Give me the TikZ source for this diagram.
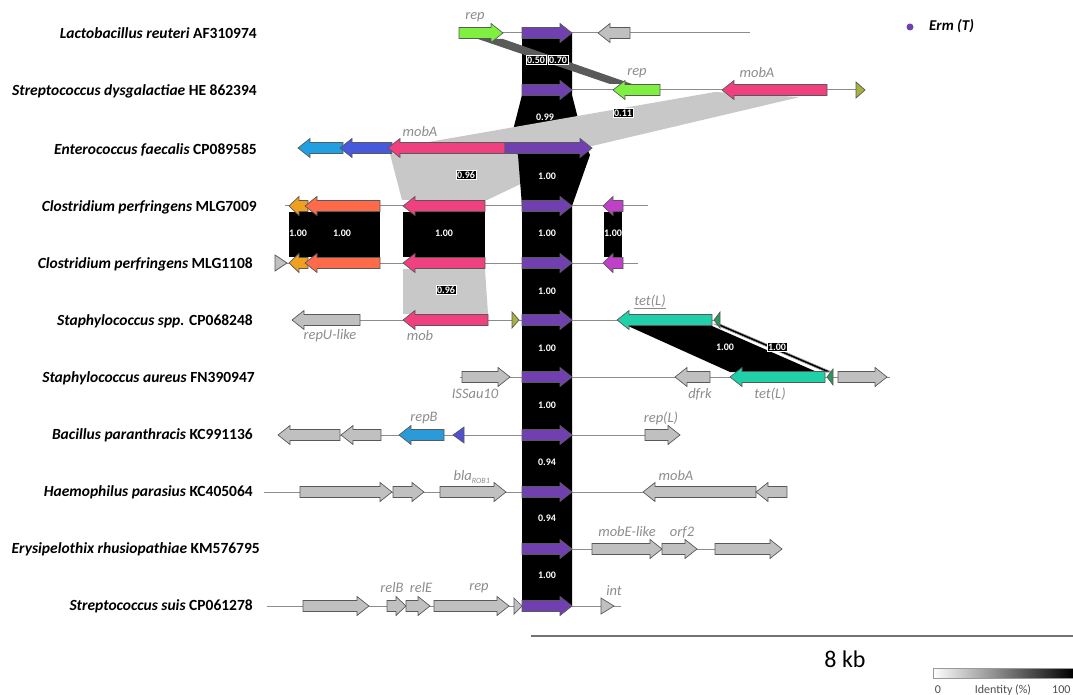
\documentclass[tikz,border=0pt]{standalone}
\usepackage{fontspec}
\setmainfont{Carlito}
\definecolor{ermc}{RGB}{112,64,176}
\definecolor{grn}{RGB}{128,240,64}
\definecolor{gg}{RGB}{192,192,192}
\definecolor{pnk}{RGB}{240,64,128}
\definecolor{cyb}{RGB}{32,160,224}
\definecolor{rbl}{RGB}{72,90,220}
\definecolor{org}{RGB}{240,160,32}
\definecolor{crl}{RGB}{255,106,72}
\definecolor{mag}{RGB}{192,64,200}
\definecolor{tel}{RGB}{32,208,168}
\definecolor{rpb}{RGB}{42,154,216}
\definecolor{tbl}{RGB}{80,80,208}
\definecolor{olv}{RGB}{168,176,64}
\definecolor{dgr}{RGB}{46,150,90}
\definecolor{lk}{RGB}{200,200,200}
\definecolor{dlk}{RGB}{90,90,90}
\definecolor{lbl}{RGB}{140,140,140}
\newcommand{\geneR}[5][12]{\filldraw[gene,fill=#5] (#2,#4-5.5) -- ({#3-#1},#4-5.5) -- ({#3-#1},#4-9.5) -- (#3,#4) -- ({#3-#1},#4+9.5) -- ({#3-#1},#4+5.5) -- (#2,#4+5.5) -- cycle;}
\newcommand{\geneL}[5][12]{\filldraw[gene,fill=#5] (#3,#4-5.5) -- ({#2+#1},#4-5.5) -- ({#2+#1},#4-9.5) -- (#2,#4) -- ({#2+#1},#4+9.5) -- ({#2+#1},#4+5.5) -- (#3,#4+5.5) -- cycle;}
\newcommand{\triR}[4]{\filldraw[gene,fill=#4] (#1,#3-8) -- (#2,#3) -- (#1,#3+8) -- cycle;}
\newcommand{\triL}[4]{\filldraw[gene,fill=#4] (#2,#3-8) -- (#1,#3) -- (#2,#3+8) -- cycle;}
\newcommand{\rowline}[3]{\draw[bb] (#1,#3) -- (#2,#3);}
\begin{document}
\begin{tikzpicture}[x=1pt,y=-1pt,
  gene/.style={draw=black!65,line width=0.7pt,line join=miter},
  bb/.style={draw=black!45,line width=1pt},
  sp/.style={anchor=east,inner sep=0pt,font=\fontsize{15.5}{16}\selectfont\bfseries},
  gl/.style={inner sep=0pt,text=lbl,font=\fontsize{14.5}{15}\selectfont\itshape},
  idl/.style={inner sep=1pt,text=white,font=\fontsize{10}{11}\selectfont\bfseries},
  idb/.style={idl,fill=black,draw=white,line width=0.4pt}]
\useasboundingbox (0,0) rectangle (1073,695);
% ---- links under black band
\fill[lk] (390,154) -- (592,150) -- (487,200) -- (402,200) -- cycle;
% ---- black band
\fill[black] (522,33) -- (522,95) -- (510,142) -- (518,155) -- (522,206) -- (522,606) -- (572,606) -- (572,206) -- (590,155) -- (584,142) -- (572,95) -- (572,33) -- cycle;
% ---- other links
\fill[lk] (715,92) -- (800,97) -- (592,146) -- (423,143) -- cycle;
\fill[dlk] (478,39) -- (503,39) -- (632,84) -- (610,84) -- cycle;
\fill[black] (289,212) rectangle (380,257);
\fill[black] (403,212) rectangle (485,257);
\fill[black] (604,212) rectangle (622,257);
\fill[lk] (403,269) -- (485,269) -- (488,314) -- (403,314) -- cycle;
\fill[black] (628,326) -- (712,326) -- (817,372) -- (730,372) -- cycle;
\filldraw[fill=black,draw=black!35,line width=0.6pt] (714,324) -- (720,324) -- (832,372) -- (826,372) -- cycle;
% ---- backbone lines
\rowline{459}{750}{33}
\rowline{522}{865}{90}
\rowline{298}{592}{148}
\rowline{285}{648}{206}
\rowline{287}{638}{263}
\rowline{292}{720}{320}
\rowline{460}{890}{377}
\rowline{278}{680}{435}
\rowline{264}{787}{492}
\rowline{572}{782}{549}
\rowline{267}{621}{606}
% ---- genes row 1
\geneR{459}{503}{33}{grn}
\geneR{522}{572}{33}{ermc}
\geneL{598}{630}{33}{gg}
% row 2
\geneR{522}{572}{90}{ermc}
\geneL{613}{660}{90}{grn}
\geneL{722}{827}{90}{pnk}
\triR{856}{865}{90}{olv}
% row 3
\geneL{298}{343}{148}{cyb}
\geneL{340}{392}{148}{rbl}
\geneL{388}{505}{148}{pnk}
\geneR{505}{592}{148}{ermc}
% row 4
\geneL[10]{289}{308}{206}{org}
\geneL{305}{380}{206}{crl}
\geneL{403}{485}{206}{pnk}
\geneR{522}{572}{206}{ermc}
\geneL[10]{603}{623}{206}{mag}
% row 5
\triR{275}{287}{263}{gg}
\geneL[10]{289}{308}{263}{org}
\geneL{305}{380}{263}{crl}
\geneL{403}{485}{263}{pnk}
\geneR{522}{572}{263}{ermc}
\geneL[10]{603}{623}{263}{mag}
% row 6
\geneL{292}{360}{320}{gg}
\geneL{403}{488}{320}{pnk}
\triR{512}{519}{320}{olv}
\geneR{522}{572}{320}{ermc}
\geneL{617}{712}{320}{tel}
\triL{714}{720}{320}{dgr}
% row 7
\geneR{462}{510}{377}{gg}
\geneR{522}{572}{377}{ermc}
\geneL{675}{710}{377}{gg}
\geneL{730}{825}{377}{tel}
\triL{827}{833}{377}{dgr}
\geneR{838}{887}{377}{gg}
% row 8
\geneL{278}{340}{435}{gg}
\geneL{341}{381}{435}{gg}
\geneL{399}{444}{435}{rpb}
\triL{453}{464}{435}{tbl}
\geneR{522}{572}{435}{ermc}
\geneR{645}{680}{435}{gg}
% row 9
\geneR{300}{392}{492}{gg}
\geneR{393}{424}{492}{gg}
\geneR{440}{506}{492}{gg}
\geneR{522}{572}{492}{ermc}
\geneL{643}{756}{492}{gg}
\geneL{756}{787}{492}{gg}
% row 10
\geneR{522}{572}{549}{ermc}
\geneR{592}{662}{549}{gg}
\geneR{662}{697}{549}{gg}
\geneR{715}{782}{549}{gg}
% row 11
\geneR{303}{369}{606}{gg}
\geneR[10]{387}{406}{606}{gg}
\geneR{406}{430}{606}{gg}
\geneR{434}{509}{606}{gg}
\triR{514}{522}{606}{gg}
\geneR{522}{572}{606}{ermc}
\triR{601}{614}{606}{gg}
% ---- identity labels
\node[idb] (i1) at (536,60) {0.50};
\node[idb] (i2) at (558,60) {0.70};
\node[idl] (i3) at (545,117) {0.99};
\node[idb] (i4) at (623,113) {0.11};
\node[idb] (i5) at (466,175) {0.96};
\node[idl] (i6) at (547,176) {1.00};
\node[idl] (i7) at (298,233) {1.00};
\node[idl] (i8) at (342,233) {1.00};
\node[idl] (i9) at (444,233) {1.00};
\node[idl] (i10) at (547,233) {1.00};
\node[idl] (i11) at (613,233) {1.00};
\node[idb] (i12) at (446,290) {0.96};
\node[idl] (i13) at (547,291) {1.00};
\node[idl] (i14) at (547,348) {1.00};
\node[idl] (i15) at (725,347) {1.00};
\node[idb] (i16) at (777,347) {1.00};
\node[idl] (i17) at (547,405) {1.00};
\node[idl] (i18) at (547,462) {0.94};
\node[idl] (i19) at (547,518) {0.94};
\node[idl] (i20) at (547,575) {1.00};
% ---- gene labels
\node[gl] (g1) at (475,17) {rep};
\node[gl] (g2) at (637,73) {rep};
\node[gl] (g3) at (757,73) {mobA};
\node[gl] (g4) at (420,132) {mobA};
\node[gl] (g5) at (330,336) {repU-like};
\node[gl] (g6) at (420,336) {mob};
\node[gl] (g7) at (650,302) {\underline{tet(L)}};
\node[gl] (g8) at (475,394) {ISSau10};
\node[gl] (g9) at (700,394) {dfrk};
\node[gl] (g10) at (770,394) {tet(L)};
\node[gl] (g11) at (424,418) {repB};
\node[gl] (g12) at (661,418) {rep(L)};
\node[gl] (g13) at (472,477) {bla\textsubscript{\fontsize{8}{8}\selectfont ROB1}};
\node[gl] (g14) at (676,476) {mobA};
\node[gl] (g15) at (627,532) {mobE-like};
\node[gl] (g16) at (682,532) {orf2};
\node[gl] (g17) at (392,588) {relB};
\node[gl] (g18) at (421,588) {relE};
\node[gl] (g19) at (479,588) {rep};
\node[gl] (g20) at (614,591) {int};
% ---- species labels
\node[sp] (s1) at (257,33) {\textit{Lactobacillus reuteri} AF310974};
\node[sp] (s2) at (257,91) {\textit{Streptococcus dysgalactiae} HE 862394};
\node[sp] (s3) at (257,150) {\textit{Enterococcus faecalis} CP089585};
\node[sp] (s4) at (257,207) {\textit{Clostridium perfringens} MLG7009};
\node[sp] (s5) at (253,264) {\textit{Clostridium perfringens} MLG1108};
\node[sp] (s6) at (253,321) {\textit{Staphylococcus spp.} CP068248};
\node[sp] (s7) at (255,378) {\textit{Staphylococcus aureus} FN390947};
\node[sp] (s8) at (253,435) {\textit{Bacillus paranthracis} KC991136};
\node[sp] (s9) at (253,492) {\textit{Haemophilus parasius} KC405064};
\node[sp] (s10) at (260,549) {\textit{Erysipelothix rhusiopathiae} KM576795};
\node[sp] (s11) at (253,606) {\textit{Streptococcus suis} CP061278};
% ---- legend
\fill[ermc] (910,27) circle (3.5);
\node[anchor=west,inner sep=0pt,font=\fontsize{15}{16}\selectfont\bfseries\itshape] (leg) at (929,26) {Erm (T)};
% ---- scale bar
\coordinate (sb1) at (531,636);
\coordinate (sb2) at (1073,636);
\draw[draw=black!55,line width=1.5pt] (sb1) -- (sb2);
\node[inner sep=0pt,font=\fontsize{24}{26}\selectfont] (kb) at (845,659) {8 kb};
\shade[left color=white,right color=black] (933,668) rectangle (1073,678);
\draw[black!40,line width=0.5pt] (933,668) rectangle (1073,678);
\node[inner sep=0pt,font=\fontsize{12}{13}\selectfont,text=black!70] (z0) at (938,690) {0};
\node[inner sep=0pt,font=\fontsize{12}{13}\selectfont,text=black!70] (zid) at (1003,690) {Identity (\%)};
\node[inner sep=0pt,font=\fontsize{12}{13}\selectfont,text=black!70,anchor=west] (z100) at (1052,690) {100};
\end{tikzpicture}
\end{document}
